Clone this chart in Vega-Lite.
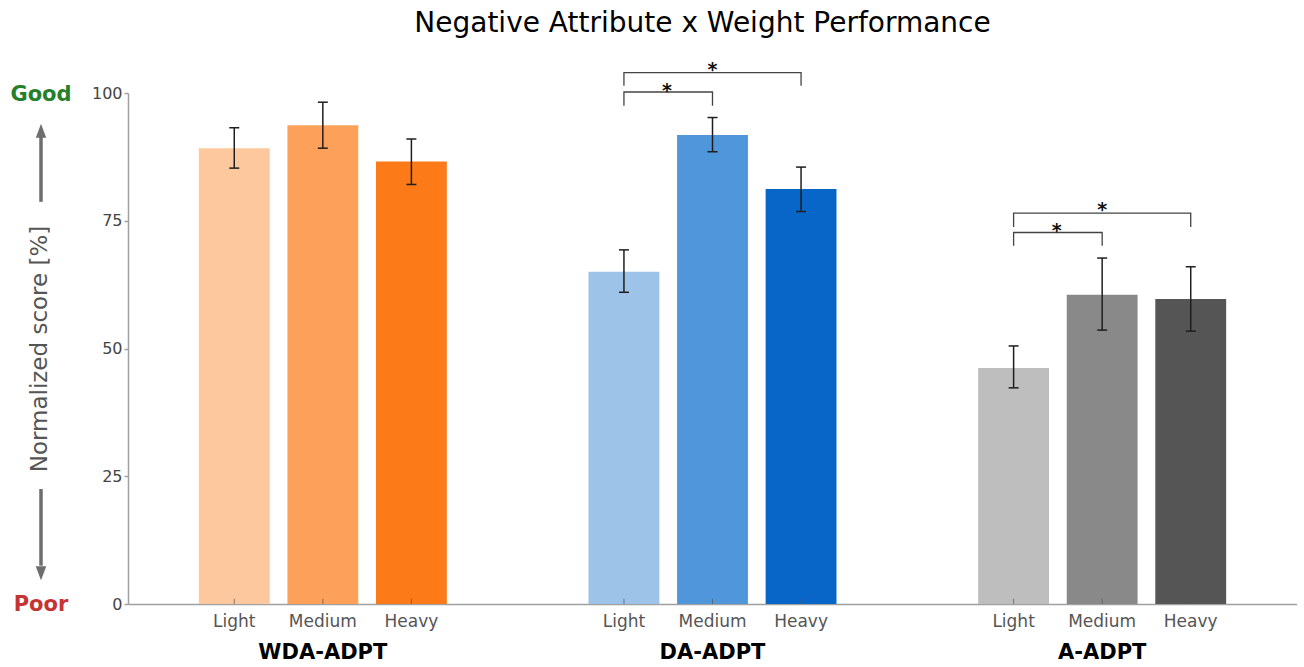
{
  "$schema": "https://vega.github.io/schema/vega-lite/v6.json",
  "padding": {"left": 0, "top": 9, "right": 0, "bottom": 0},
  "title": {"text": "Negative Attribute x Weight Performance", "font": "DejaVu Sans", "fontSize": 28, "fontWeight": "normal", "color": "#000000", "anchor": "middle", "dx": 54, "offset": 23},
  "config": {"view": {"stroke": null}, "font": "DejaVu Sans"},
  "bounds": "flush",
  "spacing": 46,
  "resolve": {"scale": {"color": "independent"}},
  "hconcat": [
    {
      "width": 82,
      "height": 511,
      "data": {"values": [
        {"kind": "good", "text": "Good", "y": 99.6},
        {"kind": "poor", "text": "Poor", "y": -0.2},
        {"kind": "shaft", "y": 78.7, "y2": 91.5},
        {"kind": "shaft", "y": 22.5, "y2": 7.5},
        {"kind": "headUp", "y": 92.6},
        {"kind": "headDown", "y": 6.0}
      ]},
      "encoding": {
        "x": {"datum": 0.5, "type": "quantitative", "scale": {"domain": [0, 1]}, "axis": null},
        "y": {"field": "y", "type": "quantitative", "scale": {"domain": [0, 100], "nice": false}, "axis": null}
      },
      "layer": [
        {
          "transform": [{"filter": "datum.kind === 'good'"}],
          "mark": {"type": "text", "fontSize": 21, "fontWeight": "bold", "baseline": "middle", "align": "center", "color": "#24802a"},
          "encoding": {"text": {"field": "text"}}
        },
        {
          "transform": [{"filter": "datum.kind === 'poor'"}],
          "mark": {"type": "text", "fontSize": 21, "fontWeight": "bold", "baseline": "middle", "align": "center", "color": "#c53333"},
          "encoding": {"text": {"field": "text"}}
        },
        {
          "transform": [{"filter": "datum.kind === 'shaft'"}],
          "mark": {"type": "rule", "color": "#6e6e6e", "strokeWidth": 3.5},
          "encoding": {"y2": {"field": "y2"}}
        },
        {
          "transform": [{"filter": "datum.kind === 'headUp'"}],
          "mark": {"type": "point", "filled": true, "color": "#6e6e6e", "opacity": 1, "shape": "M0,-1L0.75,1L-0.75,1Z", "size": 196},
          "encoding": {}
        },
        {
          "transform": [{"filter": "datum.kind === 'headDown'"}],
          "mark": {"type": "point", "filled": true, "color": "#6e6e6e", "opacity": 1, "shape": "M0,1L0.75,-1L-0.75,-1Z", "size": 196},
          "encoding": {}
        }
      ]
    },
    {
      "width": 1169,
      "height": 511,
      "encoding": {
        "x": {"field": "group", "type": "nominal", "sort": ["WDA-ADPT", "DA-ADPT", "A-ADPT"],
              "scale": {"domain": ["WDA-ADPT", "DA-ADPT", "A-ADPT"], "paddingInner": 0, "paddingOuter": 0},
              "axis": {"title": null, "labelAngle": 0, "labelFontSize": 21, "labelFontWeight": "bold", "labelColor": "#000000", "labelPadding": 37, "labelBaseline": "top", "ticks": false, "domainColor": "#a0a0a0", "domainWidth": 1.5}},
        "xOffset": {"field": "weight", "type": "nominal", "sort": ["Light", "Medium", "Heavy"],
                    "scale": {"domain": ["Light", "Medium", "Heavy"], "paddingInner": 0.2, "paddingOuter": 0.8}}
      },
      "layer": [
        {
          "data": {"name": "bars", "values": [
            {"group": "WDA-ADPT", "weight": "Light", "id": "WDA-ADPT Light", "score": 89.2, "lo": 85.3, "hi": 93.2},
            {"group": "WDA-ADPT", "weight": "Medium", "id": "WDA-ADPT Medium", "score": 93.7, "lo": 89.2, "hi": 98.2},
            {"group": "WDA-ADPT", "weight": "Heavy", "id": "WDA-ADPT Heavy", "score": 86.6, "lo": 82.1, "hi": 91.0},
            {"group": "DA-ADPT", "weight": "Light", "id": "DA-ADPT Light", "score": 65.0, "lo": 61.0, "hi": 69.3},
            {"group": "DA-ADPT", "weight": "Medium", "id": "DA-ADPT Medium", "score": 91.8, "lo": 88.5, "hi": 95.2},
            {"group": "DA-ADPT", "weight": "Heavy", "id": "DA-ADPT Heavy", "score": 81.2, "lo": 76.8, "hi": 85.5},
            {"group": "A-ADPT", "weight": "Light", "id": "A-ADPT Light", "score": 46.2, "lo": 42.3, "hi": 50.5},
            {"group": "A-ADPT", "weight": "Medium", "id": "A-ADPT Medium", "score": 60.5, "lo": 53.6, "hi": 67.7},
            {"group": "A-ADPT", "weight": "Heavy", "id": "A-ADPT Heavy", "score": 59.7, "lo": 53.4, "hi": 66.0}
          ]},
          "layer": [
            {
              "mark": {"type": "bar", "opacity": 1},
              "encoding": {
                "y": {"field": "score", "type": "quantitative", "scale": {"domain": [0, 100], "nice": false},
                      "axis": {"title": "Normalized score [%]", "titleFontSize": 23, "titleFontWeight": "normal", "titleColor": "#555555", "titlePadding": 40,
                               "values": [0, 25, 50, 75, 100], "labelFontSize": 16, "labelColor": "#444444", "labelPadding": 2,
                               "tickSize": 4, "tickColor": "#a0a0a0", "tickWidth": 1.5, "domainColor": "#a0a0a0", "domainWidth": 1.5, "grid": false}},
                "color": {"field": "id", "type": "nominal", "legend": null,
                          "scale": {"domain": ["WDA-ADPT Light", "WDA-ADPT Medium", "WDA-ADPT Heavy", "DA-ADPT Light", "DA-ADPT Medium", "DA-ADPT Heavy", "A-ADPT Light", "A-ADPT Medium", "A-ADPT Heavy"],
                                    "range": ["#fdc89e", "#fda05a", "#fc7a17", "#9dc3e8", "#5096da", "#0766c8", "#bebebe", "#898989", "#555555"]}}
              }
            },
            {
              "mark": {"type": "rule", "color": "#1e1e1e", "strokeWidth": 1.5},
              "encoding": {"y": {"field": "lo", "type": "quantitative"}, "y2": {"field": "hi"}}
            },
            {
              "mark": {"type": "tick", "color": "#1e1e1e", "thickness": 1.5, "size": 10, "opacity": 1},
              "encoding": {"y": {"field": "lo", "type": "quantitative"}}
            },
            {
              "mark": {"type": "tick", "color": "#1e1e1e", "thickness": 1.5, "size": 10, "opacity": 1},
              "encoding": {"y": {"field": "hi", "type": "quantitative"}}
            },
            {
              "mark": {"type": "rule", "color": "#555555", "strokeWidth": 1, "opacity": 0.7},
              "encoding": {"y": {"datum": 0, "type": "quantitative"}, "y2": {"datum": 1}}
            },
            {
              "mark": {"type": "text", "fontSize": 17, "color": "#555555", "baseline": "top", "dy": 10},
              "encoding": {"y": {"datum": 0, "type": "quantitative"}, "text": {"field": "weight"}}
            }
          ]
        },
        {
          "data": {"values": [
            {"group": "DA-ADPT", "bid": "DA-LM", "seq": 0, "weight": "Light", "y": 97.5},
            {"group": "DA-ADPT", "bid": "DA-LM", "seq": 1, "weight": "Light", "y": 100.2},
            {"group": "DA-ADPT", "bid": "DA-LM", "seq": 2, "weight": "Medium", "y": 100.2},
            {"group": "DA-ADPT", "bid": "DA-LM", "seq": 3, "weight": "Medium", "y": 97.5},
            {"group": "DA-ADPT", "bid": "DA-LH", "seq": 0, "weight": "Light", "y": 101.4},
            {"group": "DA-ADPT", "bid": "DA-LH", "seq": 1, "weight": "Light", "y": 104.0},
            {"group": "DA-ADPT", "bid": "DA-LH", "seq": 2, "weight": "Heavy", "y": 104.0},
            {"group": "DA-ADPT", "bid": "DA-LH", "seq": 3, "weight": "Heavy", "y": 101.4},
            {"group": "A-ADPT", "bid": "A-LM", "seq": 0, "weight": "Light", "y": 70.1},
            {"group": "A-ADPT", "bid": "A-LM", "seq": 1, "weight": "Light", "y": 72.7},
            {"group": "A-ADPT", "bid": "A-LM", "seq": 2, "weight": "Medium", "y": 72.7},
            {"group": "A-ADPT", "bid": "A-LM", "seq": 3, "weight": "Medium", "y": 70.1},
            {"group": "A-ADPT", "bid": "A-LH", "seq": 0, "weight": "Light", "y": 73.8},
            {"group": "A-ADPT", "bid": "A-LH", "seq": 1, "weight": "Light", "y": 76.5},
            {"group": "A-ADPT", "bid": "A-LH", "seq": 2, "weight": "Heavy", "y": 76.5},
            {"group": "A-ADPT", "bid": "A-LH", "seq": 3, "weight": "Heavy", "y": 73.8}
          ]},
          "mark": {"type": "line", "color": "#444444", "strokeWidth": 1.3},
          "encoding": {
            "y": {"field": "y", "type": "quantitative"},
            "detail": {"field": "bid"},
            "order": {"field": "seq", "type": "quantitative"}
          }
        },
        {
          "data": {"values": [
            {"group": "DA-ADPT", "weight": "Light", "span": "LM", "y": 101.4},
            {"group": "DA-ADPT", "weight": "Medium", "span": "LH", "y": 105.5},
            {"group": "A-ADPT", "weight": "Light", "span": "LM", "y": 74.0},
            {"group": "A-ADPT", "weight": "Medium", "span": "LH", "y": 78.1}
          ]},
          "layer": [
            {
              "transform": [{"filter": "datum.span === 'LM'"}],
              "mark": {"type": "text", "text": "*", "fontSize": 19, "fontWeight": "bold", "color": "#111111", "baseline": "middle", "dx": 43, "dy": 5},
              "encoding": {"y": {"field": "y", "type": "quantitative"}}
            },
            {
              "transform": [{"filter": "datum.span === 'LH'"}],
              "mark": {"type": "text", "text": "*", "fontSize": 19, "fontWeight": "bold", "color": "#111111", "baseline": "middle", "dy": 5},
              "encoding": {"y": {"field": "y", "type": "quantitative"}}
            }
          ]
        }
      ]
    }
  ]
}
